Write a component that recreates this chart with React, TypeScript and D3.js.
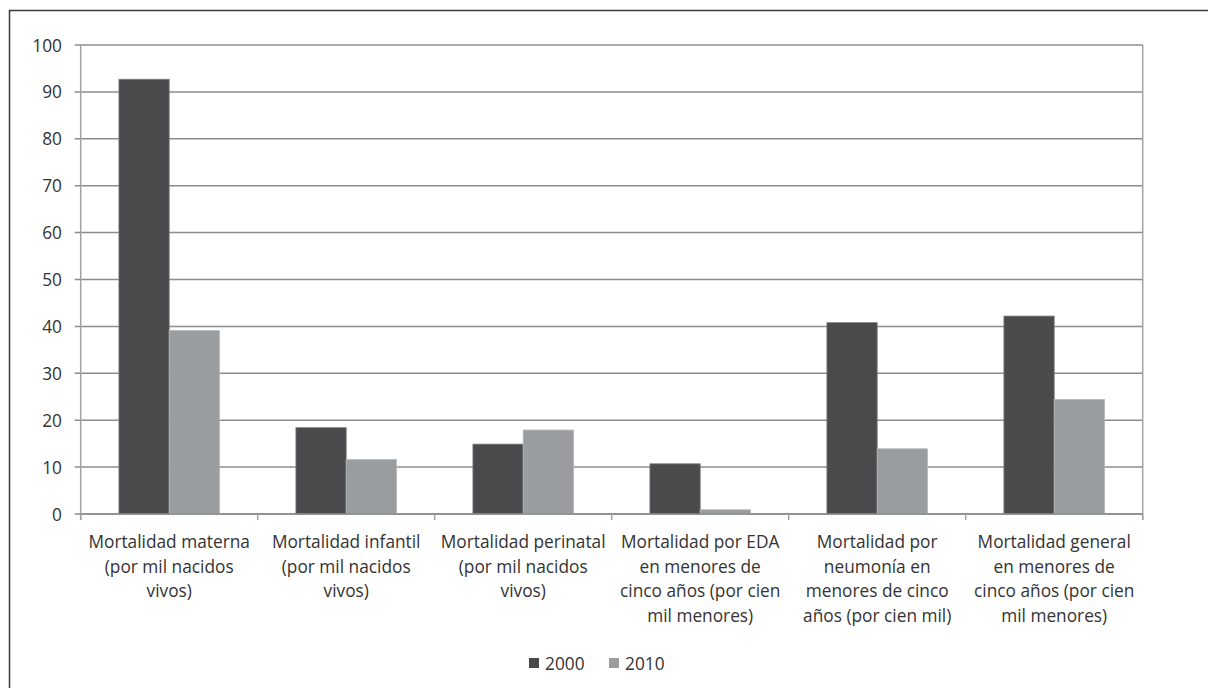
import React from "react";
import * as d3 from "d3";

const categories: string[][] = [
  ["Mortalidad materna", "(por mil nacidos", "vivos)"],
  ["Mortalidad infantil", "(por mil nacidos", "vivos)"],
  ["Mortalidad perinatal", "(por mil nacidos", "vivos)"],
  ["Mortalidad por EDA", "en menores de", "cinco años (por cien", "mil menores)"],
  ["Mortalidad por", "neumonía en", "menores de cinco", "años (por cien mil)"],
  ["Mortalidad general", "en menores de", "cinco años (por cien", "mil menores)"],
];

const series = ["2000", "2010"];
const values2000 = [92.7, 18.4, 14.9, 10.7, 40.8, 42.2];
const values2010 = [39.1, 11.6, 17.9, 0.9, 13.9, 24.4];
const yTicks = [0, 10, 20, 30, 40, 50, 60, 70, 80, 90, 100];

const colors: Record<string, string> = { "2000": "#4a4a4c", "2010": "#9a9da0" };

const W = 1208;
const H = 688;
const left = 80.7;
const right = 1142.7;
const top = 45;
const bottom = 514;
const FONT = "'Open Sans', 'DejaVu Sans', sans-serif";
const TEXT = "#333333";
const FS = 17.3;

export default function App() {
  const keys = categories.map((_, i) => String(i));
  const x = d3.scaleBand<string>().domain(keys).range([left, right]).padding(0);
  const xs = d3
    .scaleBand<string>()
    .domain(series)
    .range([0, x.bandwidth()])
    .paddingInner(0)
    .paddingOuter(0.76);
  const y = d3.scaleLinear().domain([0, 100]).range([bottom, top]);

  const rows = categories.map((c, i) => ({
    key: String(i),
    lines: c,
    vals: { "2000": values2000[i], "2010": values2010[i] } as Record<string, number>,
  }));

  const boundaries = d3.range(categories.length + 1).map((i) => left + i * x.step());

  return (
    <svg
      width={W}
      height={H}
      style={{ position: "absolute", left: 0, top: 0, background: "#fff" }}
      fontFamily={FONT}
    >
      <rect x={0} y={0} width={W} height={H} fill="#fff" />
      {/* outer frame */}
      <path d={`M9.5,${H + 2} V10.5 H${W + 2}`} fill="none" stroke="#3a3a3a" strokeWidth={1.5} />

      {/* gridlines */}
      {yTicks.map((t) => (
        <line
          key={"g" + t}
          x1={left - 6}
          x2={right}
          y1={y(t)}
          y2={y(t)}
          stroke="#8c8c8c"
          strokeWidth={1.5}
        />
      ))}
      {/* y axis */}
      <line x1={left} x2={left} y1={top} y2={bottom + 6} stroke="#a2a2a2" strokeWidth={1.5} />
      {/* right edge */}
      <line x1={right} x2={right} y1={top} y2={bottom + 6} stroke="#a2a2a2" strokeWidth={1.5} />
      {/* y tick labels */}
      {yTicks.map((t) => (
        <text
          key={"yl" + t}
          x={62}
          y={y(t)}
          textAnchor="end"
          dominantBaseline="central"
          fontSize={FS}
          fill={TEXT}
        >
          {t}
        </text>
      ))}

      {/* bars */}
      {rows.map((r) =>
        series.map((s) => (
          <rect
            key={r.key + s}
            x={(x(r.key) as number) + (xs(s) as number)}
            y={y(r.vals[s])}
            width={xs.bandwidth()}
            height={y(0) - y(r.vals[s])}
            fill={colors[s]}
            stroke={s === "2000" ? "#7d7d7f" : "#b4b6b8"}
            strokeWidth={0.8}
          />
        ))
      )}

      {/* x axis */}
      <line x1={left} x2={right} y1={bottom} y2={bottom} stroke="#8c8c8c" strokeWidth={1.5} />
      {boundaries.map((b, i) => (
        <line key={"xt" + i} x1={b} x2={b} y1={bottom} y2={bottom + 6} stroke="#a2a2a2" strokeWidth={1.5} />
      ))}

      {/* category labels */}
      {rows.map((r) => (
        <text
          key={"cl" + r.key}
          x={(x(r.key) as number) + x.bandwidth() / 2}
          y={548}
          textAnchor="middle"
          fontSize={FS}
          fill={TEXT}
        >
          {r.lines.map((ln, j) => (
            <tspan key={j} x={(x(r.key) as number) + x.bandwidth() / 2} dy={j === 0 ? 0 : 24.5}>
              {ln}
            </tspan>
          ))}
        </text>
      ))}

      {/* legend */}
      {series.map((s, i) => {
        const lx = 529 + i * 80;
        return (
          <g key={"lg" + s}>
            <rect x={lx} y={658} width={10} height={10} fill={colors[s]} />
            <text x={lx + 16} y={663} dominantBaseline="central" fontSize={FS} fill={TEXT}>
              {s}
            </text>
          </g>
        );
      })}
    </svg>
  );
}
